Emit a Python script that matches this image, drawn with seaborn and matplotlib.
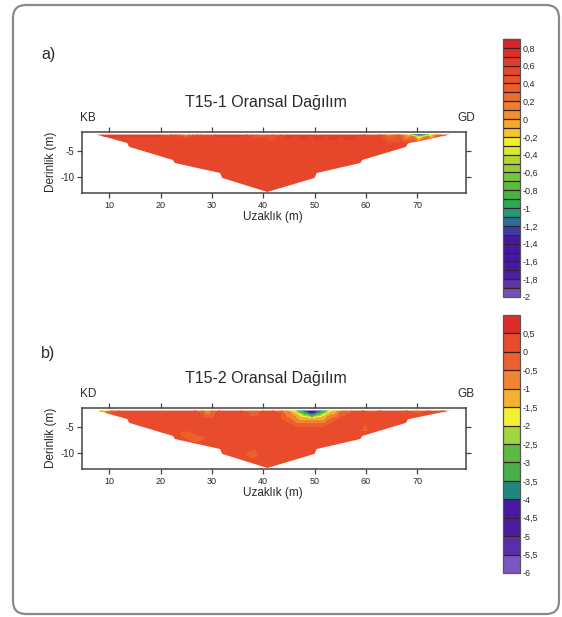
import numpy as np
import matplotlib
matplotlib.use("Agg")
import matplotlib.pyplot as plt
import matplotlib.tri as mtri
from matplotlib.colors import ListedColormap, BoundaryNorm
from matplotlib.cm import ScalarMappable
from matplotlib.patches import Polygon, FancyBboxPatch
import seaborn as sns

# ---------------------------------------------------------------- data
# outline of the pseudo-section coverage (distance m, depth m)
edge_x = [7.6, 13.5, 13.9, 22.4, 22.8, 31.6, 32.0, 40.8, 50.0, 50.4, 58.9, 59.3, 67.8, 68.2, 76.4]
edge_z = [-1.7, -3.35, -4.1, -6.65, -7.25, -9.2, -10.15, -12.9, -10.15, -9.2, -7.25, -6.65, -4.1, -3.4, -1.7]

# depth of the surface readings and of the deeper background levels
surf_z = -1.7
level_z = [-2.6, -3.8, -5.2, -6.6, -8.0, -9.4, -10.8, -12.2, -13.6]

# T15-1 ratio readings
a_surf_x = [4, 7.5, 10, 13, 16, 19, 22, 25, 28, 31, 34, 37, 40, 42, 45, 48, 51, 54, 57,
            60, 62.5, 64.5, 66.5, 68.5, 69.5, 70.5, 71.5, 72.5, 74.5, 76.5, 80]
a_surf_v = [0.64, 0.64, 0.64, 0.64, 0.64, 0.62, 0.5, 0.1, 0.5, 0.62, 0.64, 0.6, 0.3, 0.4, 0.62,
            0.64, 0.64, 0.64, 0.64, 0.6, 0.5, -0.1, 0.4, -0.2, -1.1, -1.4, -1.1, -0.4, 0.4, 0.6, 0.64]
a_level_v = [0.56, 0.56, 0.56, 0.56, 0.56, 0.56, 0.56, 0.56, 0.56]
a_extra_x = [69.0, 70.5, 72.0, 64.5]
a_extra_z = [-2.15, -2.15, -2.15, -2.2]
a_extra_v = [0.2, -0.5, 0.2, 0.3]

# T15-2 ratio readings
b_surf_x = [4, 7.5, 9, 10.5, 12, 14, 17, 20, 23, 26, 29, 32, 35, 38, 41, 44, 45.5, 47, 48.5,
            50.5, 52, 53.5, 55, 58, 61, 64, 67, 70, 73, 76.5, 80]
b_surf_v = [-2.0, -2.0, -1.4, -0.6, 0.0, 0.3, 0.3, 0.1, 0.3, 0.2, -0.9, 0.2, 0.1, -0.4, 0.2,
            -0.6, -1.7, -3.3, -4.5, -4.5, -3.3, -1.7, -0.6, 0.2, -0.3, 0.2, 0.2, -0.6, 0.2, -0.2, -0.2]
b_level_v = [0.25, 0.3, 0.2, 0.1, 0.2, 0.2, 0.15, 0.1, 0.1]
b_extra_x = [46.0, 48.0, 49.5, 51.0, 53.0, 47.5, 49.5, 51.5, 49.5, 25.0, 27.0, 60.0, 38.0]
b_extra_z = [-2.3, -2.3, -2.3, -2.3, -2.3, -2.9, -2.9, -2.9, -3.5, -6.2, -7.2, -5.0, -10.0]
b_extra_v = [-1.2, -3.2, -4.2, -3.2, -1.2, -1.6, -3.0, -1.6, -1.1, -0.1, -0.1, -0.1, -0.1]

# colour scale classes
a_levels = np.round(np.arange(-2.0, 0.91, 0.1), 2)
a_ticks = [0.8, 0.6, 0.4, 0.2, 0, -0.2, -0.4, -0.6, -0.8, -1, -1.2, -1.4, -1.6, -1.8, -2]
b_levels = np.round(np.arange(-6.0, 1.01, 0.5), 2)
b_ticks = [0.5, 0, -0.5, -1, -1.5, -2, -2.5, -3, -3.5, -4, -4.5, -5, -5.5, -6]

a_colors = ["#7452B8", "#5E36AC", "#4A1EA2", "#461AA0", "#4418A0", "#4418A0", "#4418A0",
            "#3A3CA8", "#2A6E98", "#229A78", "#2EA850", "#48B444", "#5CBC40", "#78C63E",
            "#92CE3E", "#B0D83A", "#D8EA36", "#F0F032", "#F2C830", "#F2A830", "#F09030",
            "#EE7E30", "#EC6E2E", "#EA5E2C", "#E8522C", "#E6462A", "#E23C2A", "#DE3028", "#D82428"]
b_colors = ["#7A56C0", "#5A2EAA", "#4A1CA0", "#4818A0", "#1E8880", "#48B048", "#5CBA40",
            "#A0D63E", "#F2F232", "#F4B030", "#F08432", "#EC602C", "#E84C2C", "#DC2C2C"]

grid_x = np.arange(4.0, 81.0, 3.0)

# ---------------------------------------------------------------- style
sns.set_style("ticks")
plt.rcParams["font.family"] = ["Liberation Sans", "DejaVu Sans"]
plt.rcParams["axes.unicode_minus"] = False
TXT = "#2a2a2a"

W, H = 562, 617
fig = plt.figure(figsize=(W / 100, H / 100), dpi=100)


def fx(px):
    return px / W


def fy(py):
    return 1 - py / H


def make_cmap(colors):
    cmap = ListedColormap(colors)
    cmap.set_under(colors[0])
    cmap.set_over(colors[-1])
    return cmap


def draw_section(ax, surf_x, surf_v, level_v, extra_x, extra_z, extra_v, levels, colors):
    gx, gz = np.meshgrid(grid_x, level_z)
    gv = np.repeat(np.asarray(level_v, float)[:, None], len(grid_x), axis=1)
    gx, gz, gv = gx.ravel(), gz.ravel(), gv.ravel()
    ex, ez, ev = (np.asarray(a, float) for a in (extra_x, extra_z, extra_v))
    if len(ex):
        near = np.zeros(gx.shape, bool)
        for x0, z0 in zip(ex, ez):
            near |= (np.abs(gx - x0) <= 2.5) & (np.abs(gz - z0) <= 1.0)
        gx, gz, gv = gx[~near], gz[~near], gv[~near]
    x = np.concatenate([surf_x, gx, ex])
    z = np.concatenate([np.full(len(surf_x), surf_z), gz, ez])
    v = np.concatenate([surf_v, gv, ev])
    tri = mtri.Triangulation(x, z)
    interp = mtri.LinearTriInterpolator(tri, v)
    refiner = mtri.UniformTriRefiner(tri)
    tri_f, v_f = refiner.refine_field(v, triinterpolator=interp, subdiv=2)
    cmap = make_cmap(colors)
    norm = BoundaryNorm(levels, cmap.N)
    cs = ax.tricontourf(tri_f, v_f, levels=levels, cmap=cmap, norm=norm, extend="both")
    outline = Polygon(np.column_stack([edge_x, edge_z]), closed=True,
                      transform=ax.transData, facecolor="none", edgecolor="none")
    ax.add_patch(outline)
    cs.set_clip_path(outline)

    ax.set_xlim(4.7, 79.5)
    ax.set_ylim(-13.1, -1.2)
    ax.set_xticks(range(10, 80, 10))
    ax.set_yticks([-5, -10])
    ax.tick_params(direction="out", top=True, right=True, labeltop=False, labelright=False,
                   length=3.5, width=0.9, color="#444444", labelsize=6.5, labelcolor=TXT, pad=2)
    ax.tick_params(axis="y", labelsize=7)
    for s in ax.spines.values():
        s.set_color("#444444")
        s.set_linewidth(1.1)
    return cmap, norm


def draw_scale(rect, cmap, norm, ticks):
    cax = fig.add_axes(rect)
    cb = fig.colorbar(ScalarMappable(norm=norm, cmap=cmap), cax=cax, ticks=ticks,
                      drawedges=True, extend="neither")
    cb.dividers.set_color("#3a2222")
    cb.dividers.set_linewidth(0.9)
    cb.outline.set_edgecolor("#555555")
    cb.outline.set_linewidth(0.9)
    cb.ax.minorticks_off()
    cb.ax.set_yticklabels([f"{t:g}".replace(".", ",") for t in ticks])
    cb.ax.tick_params(which="both", length=0, pad=2, labelsize=6.5, labelcolor=TXT)


# ---------------------------------------------------------------- frame
frame = FancyBboxPatch((13 / 100, (H - 614) / 100), (559 - 13) / 100, (614 - 5) / 100,
                       boxstyle="round,pad=0,rounding_size=0.13",
                       transform=fig.dpi_scale_trans, facecolor="white",
                       edgecolor="#8a8a8a", linewidth=1.6, zorder=-10)
fig.patches.append(frame)

# ---------------------------------------------------------------- panels
panels = [
    dict(top=132, label="a)", label_y=54, title="T15-1 Oransal Dağılım", ends=("KB", "GD"),
         data=(a_surf_x, a_surf_v, a_level_v, a_extra_x, a_extra_z, a_extra_v),
         levels=a_levels, colors=a_colors, ticks=a_ticks, bar_top=39),
    dict(top=408, label="b)", label_y=354, title="T15-2 Oransal Dağılım", ends=("KD", "GB"),
         data=(b_surf_x, b_surf_v, b_level_v, b_extra_x, b_extra_z, b_extra_v),
         levels=b_levels, colors=b_colors, ticks=b_ticks, bar_top=315),
]

for p in panels:
    top = p["top"]
    ax = fig.add_axes([fx(82), fy(top + 61), fx(466) - fx(82), 61 / H])
    cmap, norm = draw_section(ax, *p["data"], p["levels"], p["colors"])
    draw_scale([fx(503), fy(p["bar_top"] + 258), 17 / W, 258 / H], cmap, norm, p["ticks"])

    fig.text(fx(48), fy(p["label_y"]), p["label"], fontsize=11.5, color=TXT,
             ha="center", va="center")
    fig.text(fx(266), fy(top - 30), p["title"], fontsize=11.5, color=TXT,
             ha="center", va="center")
    fig.text(fx(80), fy(top - 14), p["ends"][0], fontsize=8.5, color=TXT,
             ha="left", va="center")
    fig.text(fx(475), fy(top - 14), p["ends"][1], fontsize=8.5, color=TXT,
             ha="right", va="center")
    fig.text(fx(51), fy(top + 30), "Derinlik (m)", fontsize=8.5, color=TXT,
             rotation=90, ha="center", va="center")
    fig.text(fx(273), fy(top + 85), "Uzaklık (m)", fontsize=8.5, color=TXT,
             ha="center", va="center")

fig.savefig("out.png", dpi=100)
